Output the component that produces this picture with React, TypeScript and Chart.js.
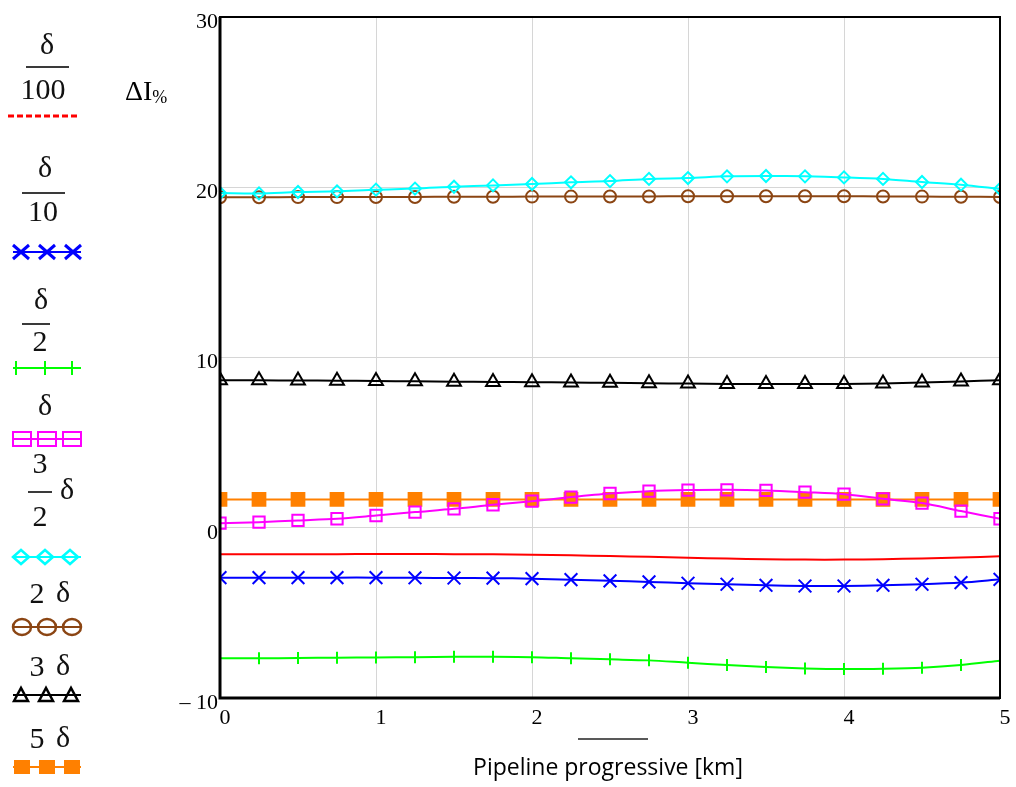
import React, { useEffect, useRef } from 'react';
import { Chart, registerables } from 'chart.js';

Chart.register(...registerables);

// Distance along pipeline [km]
const xKm = [0, 0.25, 0.5, 0.75, 1, 1.25, 1.5, 1.75, 2, 2.25, 2.5, 2.75, 3, 3.25, 3.5, 3.75, 4, 4.25, 4.5, 4.75, 5];

// ΔI% series
const dOver100 = [-1.56, -1.56, -1.55, -1.55, -1.54, -1.54, -1.55, -1.56, -1.58, -1.62, -1.66, -1.71, -1.76, -1.81, -1.85, -1.87, -1.87, -1.85, -1.8, -1.75, -1.68];
const dOver10 = [-2.93, -2.93, -2.93, -2.93, -2.93, -2.94, -2.95, -2.96, -2.99, -3.05, -3.12, -3.18, -3.26, -3.32, -3.38, -3.42, -3.42, -3.38, -3.32, -3.22, -3.03];
const dOver2 = [-7.67, -7.67, -7.65, -7.63, -7.62, -7.6, -7.58, -7.58, -7.6, -7.67, -7.73, -7.79, -7.93, -8.06, -8.18, -8.26, -8.3, -8.28, -8.22, -8.06, -7.81];
const d1 = [0.27, 0.33, 0.43, 0.53, 0.72, 0.92, 1.11, 1.35, 1.56, 1.8, 2.01, 2.15, 2.21, 2.23, 2.19, 2.09, 1.97, 1.7, 1.45, 0.98, 0.53];
const d15 = [19.66, 19.64, 19.72, 19.76, 19.86, 19.92, 20.03, 20.11, 20.19, 20.29, 20.36, 20.49, 20.54, 20.64, 20.66, 20.64, 20.58, 20.49, 20.31, 20.15, 19.9];
const d2 = [19.41, 19.41, 19.42, 19.42, 19.43, 19.43, 19.44, 19.44, 19.45, 19.45, 19.46, 19.46, 19.47, 19.47, 19.47, 19.47, 19.47, 19.46, 19.45, 19.44, 19.43];
const d3 = [8.67, 8.66, 8.65, 8.64, 8.62, 8.6, 8.58, 8.56, 8.55, 8.53, 8.51, 8.49, 8.47, 8.45, 8.44, 8.44, 8.45, 8.48, 8.53, 8.59, 8.67];
const d5 = [1.66, 1.66, 1.66, 1.66, 1.66, 1.66, 1.66, 1.66, 1.66, 1.66, 1.66, 1.66, 1.66, 1.66, 1.66, 1.66, 1.66, 1.66, 1.66, 1.66, 1.66];

const yTicks = [-10, 0, 10, 20, 30];
const xTicks = [0, 1, 2, 3, 4, 5];

const SERIF = "'Liberation Serif', 'DejaVu Serif', serif";
const SANS = "'Open Sans', 'Noto Sans', sans-serif";

const toPts = (arr: number[]) => xKm.map((x, i) => ({ x, y: arr[i] }));

function legendLine(ctx: CanvasRenderingContext2D, y: number, color: string) {
  ctx.save();
  ctx.strokeStyle = color;
  ctx.lineWidth = 2;
  ctx.beginPath();
  ctx.moveTo(13, y);
  ctx.lineTo(81, y);
  ctx.stroke();
  ctx.restore();
}

function fracBar(ctx: CanvasRenderingContext2D, x1: number, x2: number, y: number) {
  ctx.save();
  ctx.strokeStyle = '#3a3a3a';
  ctx.lineWidth = 2;
  ctx.beginPath();
  ctx.moveTo(x1, y);
  ctx.lineTo(x2, y);
  ctx.stroke();
  ctx.restore();
}

const boxPlugin = {
  id: 'boxPlugin',
  afterDatasetsDraw(chart: any) {
    const { ctx, chartArea: a } = chart;
    ctx.save();
    ctx.strokeStyle = '#000';
    ctx.lineWidth = 2;
    ctx.strokeRect(a.left, a.top, a.right - a.left, a.bottom - a.top);
    ctx.lineWidth = 3;
    ctx.beginPath();
    ctx.moveTo(a.left, a.top);
    ctx.lineTo(a.left, a.bottom);
    ctx.lineTo(a.right, a.bottom);
    ctx.stroke();
    ctx.restore();
  },
};

const decorPlugin = {
  id: 'decorPlugin',
  afterDraw(chart: any) {
    const ctx: CanvasRenderingContext2D = chart.ctx;
    ctx.save();
    ctx.fillStyle = '#111';
    ctx.textAlign = 'center';
    ctx.textBaseline = 'middle';
    ctx.font = `30px ${SERIF}`;

    // 1: δ/100
    ctx.fillText('δ', 47, 46);
    fracBar(ctx, 26, 69, 67);
    ctx.fillText('100', 43, 91);
    ctx.save();
    ctx.strokeStyle = '#ff0000';
    ctx.lineWidth = 3;
    ctx.setLineDash([6, 3]);
    ctx.beginPath();
    ctx.moveTo(8, 116);
    ctx.lineTo(80, 116);
    ctx.stroke();
    ctx.restore();

    // 2: δ/10
    ctx.fillText('δ', 45, 169);
    fracBar(ctx, 22, 65, 193);
    ctx.fillText('10', 43, 213);
    legendLine(ctx, 252, '#0000ff');
    ctx.save();
    ctx.strokeStyle = '#0000ff';
    ctx.lineWidth = 3;
    for (const cx of [21, 47, 73]) {
      ctx.beginPath();
      ctx.moveTo(cx - 8, 252 - 7);
      ctx.lineTo(cx + 8, 252 + 7);
      ctx.moveTo(cx - 8, 252 + 7);
      ctx.lineTo(cx + 8, 252 - 7);
      ctx.stroke();
    }
    ctx.restore();

    // 3: δ/2
    ctx.fillText('δ', 41, 301);
    fracBar(ctx, 22, 50, 324);
    ctx.fillText('2', 40, 343);
    legendLine(ctx, 368, '#00ff00');
    ctx.save();
    ctx.strokeStyle = '#00ff00';
    ctx.lineWidth = 2;
    for (const cx of [16, 45, 72]) {
      ctx.beginPath();
      ctx.moveTo(cx, 368 - 7);
      ctx.lineTo(cx, 368 + 7);
      ctx.stroke();
    }
    ctx.restore();

    // 4: δ
    ctx.fillText('δ', 45, 407);
    legendLine(ctx, 439, '#ff00ff');
    ctx.save();
    ctx.strokeStyle = '#ff00ff';
    ctx.lineWidth = 2;
    for (const cx of [22, 47, 72]) ctx.strokeRect(cx - 9, 439 - 7, 18, 14);
    ctx.restore();

    // 5: 3/2 δ
    ctx.fillText('3', 40, 465);
    fracBar(ctx, 28, 52, 492);
    ctx.fillText('δ', 67, 491);
    ctx.fillText('2', 40, 518);
    legendLine(ctx, 557, '#00ffff');
    ctx.save();
    ctx.strokeStyle = '#00ffff';
    ctx.lineWidth = 2.5;
    for (const cx of [21, 45, 70]) {
      ctx.beginPath();
      ctx.moveTo(cx - 8, 557);
      ctx.lineTo(cx, 557 - 7);
      ctx.lineTo(cx + 8, 557);
      ctx.lineTo(cx, 557 + 7);
      ctx.closePath();
      ctx.stroke();
    }
    ctx.restore();

    // 6: 2δ
    ctx.fillText('2', 37, 595);
    ctx.fillText('δ', 63, 594);
    legendLine(ctx, 627, '#8b4513');
    ctx.save();
    ctx.strokeStyle = '#8b4513';
    ctx.lineWidth = 2.5;
    for (const cx of [22, 47, 72]) {
      ctx.beginPath();
      ctx.ellipse(cx, 627, 9, 8, 0, 0, Math.PI * 2);
      ctx.stroke();
    }
    ctx.restore();

    // 7: 3δ
    ctx.fillText('3', 37, 668);
    ctx.fillText('δ', 63, 667);
    legendLine(ctx, 695, '#000000');
    ctx.save();
    ctx.strokeStyle = '#000';
    ctx.lineWidth = 2.5;
    for (const cx of [21, 46, 71]) {
      ctx.beginPath();
      ctx.moveTo(cx - 7, 701);
      ctx.lineTo(cx, 688);
      ctx.lineTo(cx + 7, 701);
      ctx.closePath();
      ctx.stroke();
    }
    ctx.restore();

    // 8: 5δ
    ctx.fillText('5', 37, 740);
    ctx.fillText('δ', 63, 739);
    legendLine(ctx, 767, '#ff8000');
    ctx.save();
    ctx.fillStyle = '#ff8000';
    for (const cx of [22, 47, 72]) ctx.fillRect(cx - 8, 767 - 7, 16, 14);
    ctx.restore();

    // Y title ΔI%
    ctx.textAlign = 'left';
    ctx.fillStyle = '#000';
    ctx.font = `28px ${SERIF}`;
    ctx.fillText('ΔI', 125, 93);
    const w = ctx.measureText('ΔI').width;
    ctx.font = `18px ${SERIF}`;
    ctx.fillText('%', 125 + w, 98);

    // small placeholder line under x axis
    ctx.strokeStyle = '#222';
    ctx.lineWidth = 1.5;
    ctx.beginPath();
    ctx.moveTo(578, 739);
    ctx.lineTo(648, 739);
    ctx.stroke();

    // X title
    ctx.textAlign = 'center';
    ctx.fillStyle = '#000';
    ctx.font = `23px ${SANS}`;
    ctx.fillText('Pipeline progressive [km]', 608, 768);
    ctx.restore();
  },
};

export default function App() {
  const ref = useRef<HTMLCanvasElement>(null);

  useEffect(() => {
    document.body.style.margin = '0';
    const common = { borderWidth: 2, pointBorderWidth: 2, tension: 0.3, clip: 0, fill: false };
    const chart = new Chart(ref.current!, {
      type: 'line',
      data: {
        datasets: [
          { ...common, label: 'δ/100', data: toPts(dOver100), borderColor: '#ff0000', pointRadius: 0 },
          { ...common, label: 'δ/10', data: toPts(dOver10), borderColor: '#0000ff', pointStyle: 'crossRot', pointRadius: 9, pointBorderColor: '#0000ff', pointBackgroundColor: '#0000ff' },
          { ...common, label: 'δ/2', data: toPts(dOver2), borderColor: '#00ff00', pointStyle: 'line', pointRotation: 90, pointRadius: 6, pointBorderColor: '#00ff00', pointBackgroundColor: '#00ff00' },
          { ...common, label: 'δ', data: toPts(d1), borderColor: '#ff00ff', pointStyle: 'rect', pointRadius: 8, pointBorderColor: '#ff00ff', pointBackgroundColor: 'rgba(255,255,255,0)' },
          { ...common, label: '3/2 δ', data: toPts(d15), borderColor: '#00ffff', pointStyle: 'rectRot', pointRadius: 6, pointBorderColor: '#00ffff', pointBackgroundColor: 'rgba(255,255,255,0)' },
          { ...common, label: '2 δ', data: toPts(d2), borderColor: '#8b4513', pointStyle: 'circle', pointRadius: 6, pointBorderColor: '#8b4513', pointBackgroundColor: 'rgba(255,255,255,0)' },
          { ...common, label: '3 δ', data: toPts(d3), borderColor: '#000000', pointStyle: 'triangle', pointRadius: 8, pointBorderColor: '#000000', pointBackgroundColor: 'rgba(255,255,255,0)' },
          { ...common, label: '5 δ', data: toPts(d5), borderColor: '#ff8000', pointStyle: 'rect', pointRadius: 9, pointBorderColor: '#ff8000', pointBackgroundColor: '#ff8000' },
        ],
      },
      options: {
        responsive: false,
        animation: false,
        events: [],
        layout: { padding: { left: 160, right: 16, top: 17, bottom: 49 } },
        plugins: { legend: { display: false }, tooltip: { enabled: false } },
        scales: {
          x: {
            type: 'linear',
            min: 0,
            max: 5,
            afterBuildTicks: (s: any) => { s.ticks = xTicks.map((v) => ({ value: v })); },
            afterFit: (s: any) => { s.height = 40; },
            ticks: { color: '#000', font: { family: SERIF, size: 22 }, padding: 7, labelOffset: 5, maxRotation: 0 },
            grid: { color: '#d6d6d6', lineWidth: 1, drawTicks: false },
            border: { display: false },
          },
          y: {
            type: 'linear',
            min: -10,
            max: 30,
            afterBuildTicks: (s: any) => { s.ticks = yTicks.map((v) => ({ value: v })); },
            afterFit: (s: any) => { s.width = 60; },
            ticks: {
              color: '#000',
              font: { family: SERIF, size: 22 },
              padding: 2,
              labelOffset: 5,
              callback: (v: any) => (Number(v) < 0 ? '– ' + Math.abs(Number(v)) : String(v)),
            },
            grid: { color: '#d6d6d6', lineWidth: 1, drawTicks: false },
            border: { display: false },
          },
        },
      },
      plugins: [boxPlugin, decorPlugin],
    } as any);
    return () => chart.destroy();
  }, []);

  return (
    <div style={{ width: 1016, height: 787, background: '#fff' }}>
      <canvas ref={ref} width={1016} height={787} style={{ display: 'block' }} />
    </div>
  );
}
